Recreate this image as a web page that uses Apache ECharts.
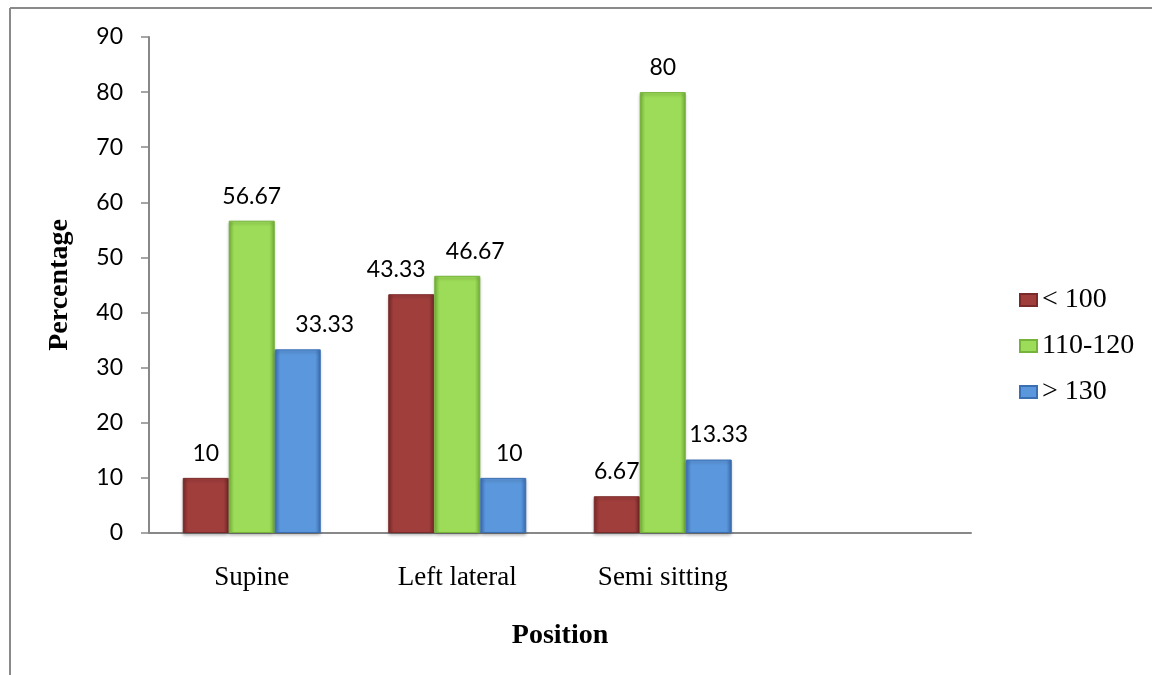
<!DOCTYPE html>
<html>
<head>
<meta charset="utf-8">
<script src="https://cdn.jsdelivr.net/npm/echarts@6/dist/echarts.min.js"></script>
<style>
  html, body { margin: 0; padding: 0; background: #fff; }
  #chart { width: 1152px; height: 675px; }
</style>
</head>
<body>
<div id="chart"></div>
<script>
// Positions on the x axis (the fourth slot is left empty, as in the layout)
const categories = ['Supine', 'Left lateral', 'Semi sitting', ''];
const seriesNames = ['< 100', '110-120', '> 130'];
const below100 = [10, 43.33, 6.67, null];
const from110to120 = [56.67, 46.67, 80, null];
const above130 = [33.33, 10, 13.33, null];
const yTicks = { min: 0, max: 90, interval: 10 };

// Horizontal nudges (px) for value labels that would otherwise collide
const labelShift = [
  [0, -15, 0, 0],
  [0, 18, 0, 0],
  [27, 6, 10, 0]
];

const palettes = [
  { edge: '#7a2a29', mid: '#a03e3c' },
  { edge: '#76b33a', mid: '#9cdc58' },
  { edge: '#3b6fb3', mid: '#5b97dc' }
];

function barColor(p) {
  return new echarts.graphic.LinearGradient(0, 0, 1, 0, [
    { offset: 0, color: p.edge },
    { offset: 0.12, color: p.mid },
    { offset: 0.88, color: p.mid },
    { offset: 1, color: p.edge }
  ]);
}

function makeSeries(idx, data) {
  const p = palettes[idx];
  return {
    name: seriesNames[idx],
    type: 'bar',
    data: data.map(function (v, i) {
      return { value: v, label: { offset: [labelShift[idx][i], 0] } };
    }),
    barWidth: 46,
    barGap: '0%',
    itemStyle: {
      color: barColor(p),
      borderColor: p.edge,
      borderWidth: 1,
      shadowColor: 'rgba(0,0,0,0.25)',
      shadowBlur: 3,
      shadowOffsetY: 2
    },
    label: {
      show: true,
      position: 'top',
      distance: 13,
      fontFamily: 'Lato',
      fontSize: 23,
      color: '#000',
      formatter: function (d) { return d.value; }
    }
  };
}

const chart = echarts.init(document.getElementById('chart'));
chart.setOption({
  animation: false,
  backgroundColor: '#fff',
  grid: { left: 149, right: 181, top: 37, bottom: 142, containLabel: false },
  legend: {
    orient: 'vertical',
    left: 1014,
    top: 281,
    itemWidth: 17,
    itemHeight: 12,
    itemGap: 18,
    icon: 'rect',
    textStyle: { fontFamily: 'Liberation Serif', fontSize: 28, color: '#000' },
    data: seriesNames
  },
  xAxis: {
    type: 'category',
    data: categories,
    axisLine: { lineStyle: { color: '#888', width: 2 } },
    axisTick: { show: false },
    axisLabel: { margin: 31, fontFamily: 'Liberation Serif', fontSize: 27, color: '#000' }
  },
  yAxis: {
    type: 'value',
    min: yTicks.min,
    max: yTicks.max,
    interval: yTicks.interval,
    name: 'Percentage',
    nameLocation: 'middle',
    nameGap: 75,
    nameTextStyle: { fontFamily: 'Liberation Serif', fontSize: 28, fontWeight: 'bold', color: '#000' },
    splitLine: { show: false },
    axisLine: { show: true, lineStyle: { color: '#888', width: 2 } },
    axisTick: { show: true, length: 8, lineStyle: { color: '#888', width: 1.5 } },
    axisLabel: { margin: 26, fontFamily: 'Lato', fontSize: 23, color: '#000' }
  },
  graphic: [
    { type: 'line', shape: { x1: 10, y1: 8, x2: 1152, y2: 8 }, style: { stroke: '#8a8a8a', lineWidth: 2 } },
    { type: 'line', shape: { x1: 10, y1: 8, x2: 10, y2: 675 }, style: { stroke: '#8a8a8a', lineWidth: 2 } },
    {
      type: 'text', x: 560, y: 622,
      style: { text: 'Position', textAlign: 'center', textVerticalAlign: 'top', fontFamily: 'Liberation Serif', fontSize: 28, fontWeight: 'bold', fill: '#000' }
    }
  ],
  series: [
    makeSeries(0, below100),
    makeSeries(1, from110to120),
    makeSeries(2, above130)
  ]
});
</script>
</body>
</html>
